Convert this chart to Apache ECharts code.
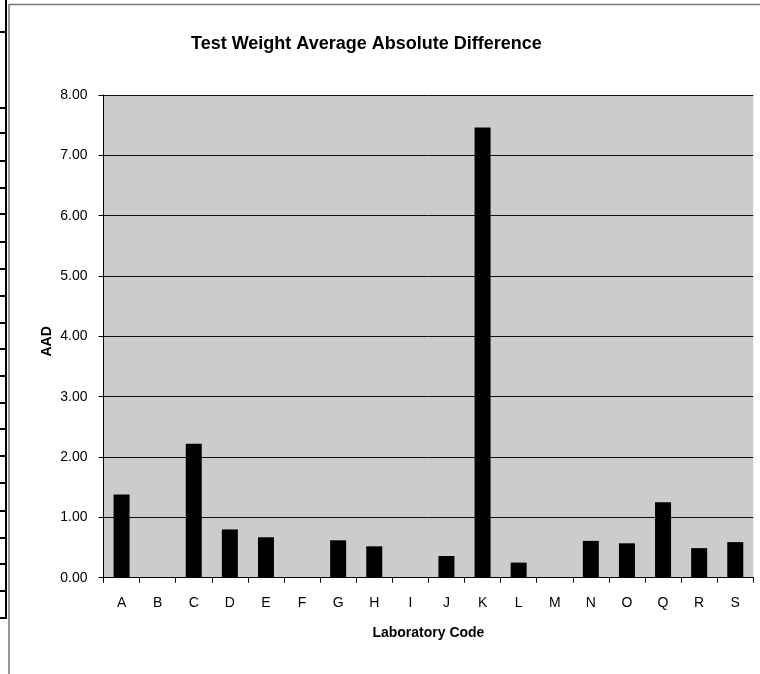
<!DOCTYPE html>
<html>
<head>
<meta charset="utf-8">
<script src="https://cdn.jsdelivr.net/npm/echarts@6/dist/echarts.min.js"></script>
<style>
html,body{margin:0;padding:0;background:#fff;}
#chart{width:760px;height:674px;}
</style>
</head>
<body>
<div id="chart"></div>
<script>
var categories = ['A','B','C','D','E','F','G','H','I','J','K','L','M','N','O','Q','R','S'];
var aadValues = [1.38, 0, 2.22, 0.80, 0.67, 0, 0.62, 0.52, 0, 0.36, 7.46, 0.25, 0, 0.61, 0.57, 1.25, 0.49, 0.59];
var yTicks = [0, 1, 2, 3, 4, 5, 6, 7, 8];
var titleText = 'Test Weight Average Absolute Difference';
var xAxisTitle = 'Laboratory Code';
var yAxisTitle = 'AAD';

// decorative spreadsheet row markers at the left edge
var rowMarks = [32, 108, 133, 161, 188, 214, 242, 269, 296, 323, 349, 376, 403, 429, 456, 483, 511, 538, 564, 591, 618];

var FONT = 'Liberation Sans, Arial, sans-serif';
var chart = echarts.init(document.getElementById('chart'), null, {renderer: 'canvas'});

var graphics = [
  {type: 'rect', shape: {x: 9, y: 4.5, width: 800, height: 720}, style: {fill: 'none', stroke: '#777', lineWidth: 1.5}, z: 10},
  {type: 'line', shape: {x1: 6, y1: 0, x2: 6, y2: 619}, style: {stroke: '#000', lineWidth: 2}, z: 10}
];
rowMarks.forEach(function (y) {
  graphics.push({type: 'line', shape: {x1: 0, y1: y, x2: 7, y2: y}, style: {stroke: '#000', lineWidth: 2}, z: 10});
});

chart.setOption({
  animation: false,
  backgroundColor: '#fff',
  title: {
    text: titleText,
    left: 186,
    top: 30,
    textStyle: {fontFamily: FONT, fontSize: 18, fontWeight: 'bold', color: '#000'}
  },
  graphic: graphics,
  grid: {
    left: 103.5, top: 95, right: 6.7, bottom: 96.3,
    show: true, backgroundColor: '#cccccc', borderWidth: 0
  },
  xAxis: {
    type: 'category',
    data: categories,
    name: xAxisTitle,
    nameLocation: 'middle',
    nameGap: 48,
    nameTextStyle: {fontFamily: FONT, fontSize: 14, fontWeight: 'bold', color: '#000'},
    axisLine: {lineStyle: {color: '#000', width: 1}},
    axisTick: {show: true, length: 5, lineStyle: {color: '#000'}, alignWithLabel: false},
    axisLabel: {fontFamily: FONT, fontSize: 14, color: '#000', margin: 18, interval: 0},
    splitLine: {show: false}
  },
  yAxis: {
    type: 'value',
    min: 0, max: 8, interval: 1,
    name: yAxisTitle,
    nameLocation: 'middle',
    nameGap: 49,
    nameMoveOverlap: false,
    nameRotate: 90,
    nameTextStyle: {fontFamily: FONT, fontSize: 14, fontWeight: 'bold', color: '#000', padding: [0, 10, 0, 0]},
    axisLine: {show: true, lineStyle: {color: '#000', width: 1}},
    axisTick: {show: true, length: 5, lineStyle: {color: '#000'}},
    axisLabel: {
      fontFamily: FONT, fontSize: 14, color: '#000', margin: 16,
      formatter: function (v) { return yTicks.indexOf(v) >= 0 ? v.toFixed(2) : ''; }
    },
    splitLine: {show: true, lineStyle: {color: '#111', width: 1}}
  },
  series: [{
    type: 'bar',
    data: aadValues,
    barWidth: 16,
    itemStyle: {color: '#000'},
    silent: true
  }]
});
</script>
</body>
</html>
